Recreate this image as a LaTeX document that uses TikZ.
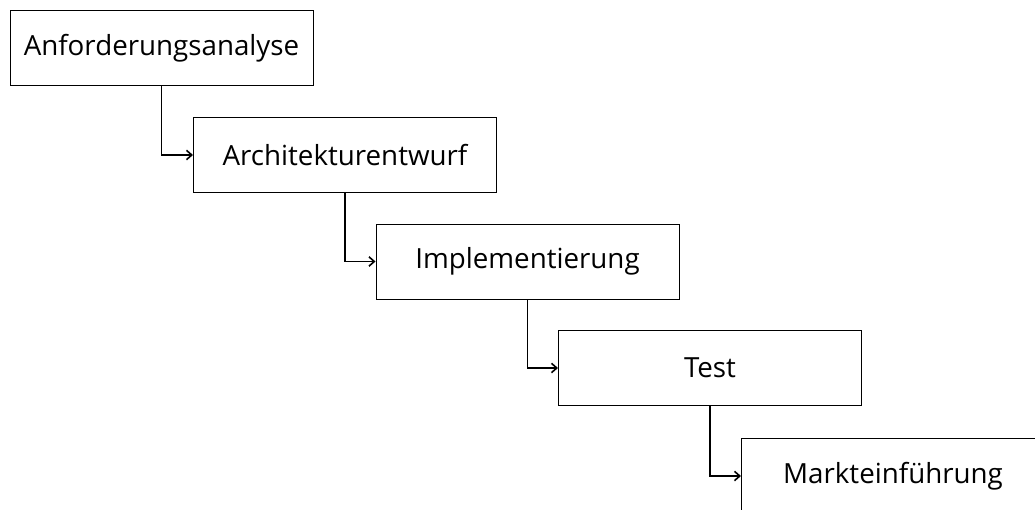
\documentclass[tikz,border=0pt]{standalone}
\usepackage{fontspec}
\setmainfont{Open Sans}
\usetikzlibrary{arrows.meta}
\begin{document}
\begin{tikzpicture}[x=0.75pt,y=-0.75pt,
  stage/.style={draw=black, line width=0.75pt, minimum width=227.25pt, minimum height=56.25pt, inner sep=0pt, font=\fontsize{20.8}{25}\selectfont},
  flow/.style={-{Straight Barb[length=4pt,width=7pt]}, line width=1.2pt}]
\clip (0,0) rectangle (1035,510);
\useasboundingbox (0,0) rectangle (1035,510);
\node[stage] (a) at (161.5,48.5) {Anforderungsanalyse};
\node[stage] (b) at (345,155) {Architekturentwurf};
\node[stage] (c) at (527.5,261.5) {Implementierung};
\node[stage] (d) at (710,368) {Test};
\node[stage] (e) at (893,476) {Markteinführung};
\draw[flow] (a.south) |- (b.west);
\draw[flow] (b.south) |- (c.west);
\draw[flow] (c.south) |- (d.west);
\draw[flow] (d.south) |- (e.west);
\end{tikzpicture}
\end{document}
